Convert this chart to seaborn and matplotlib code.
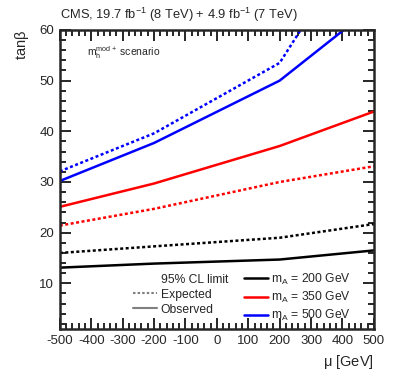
import numpy as np
import pandas as pd
import seaborn as sns
import matplotlib.pyplot as plt
from matplotlib.lines import Line2D
from matplotlib.ticker import MultipleLocator

mu = [-500, -200, 200, 500]
mA_labels = ['200', '350', '500']
obs_200 = [13.1, 13.9, 14.7, 16.5]
exp_200 = [16.0, 17.3, 19.0, 21.7]
obs_350 = [25.1, 29.7, 37.1, 43.9]
exp_350 = [21.4, 24.7, 30.0, 33.1]
obs_500 = [30.2, 37.7, 50.0, 64.7]
exp_500 = [32.1, 39.6, 53.5, 82.6]

rows = []
for m, obs, exp in zip(mA_labels, [obs_200, obs_350, obs_500], [exp_200, exp_350, exp_500]):
    for x, o, e in zip(mu, obs, exp):
        rows.append({'mu': x, 'tanb': o, 'mA': m, 'kind': 'Observed'})
        rows.append({'mu': x, 'tanb': e, 'mA': m, 'kind': 'Expected'})
df = pd.DataFrame(rows)

sns.set_style('ticks')
plt.rcParams['font.family'] = ['Liberation Sans', 'DejaVu Sans']
plt.rcParams['mathtext.fontset'] = 'custom'
plt.rcParams['mathtext.rm'] = 'Liberation Sans'
plt.rcParams['mathtext.it'] = 'Liberation Sans'
plt.rcParams['axes.unicode_minus'] = False

fig = plt.figure(figsize=(3.99, 3.79), dpi=100)
ax = fig.add_axes([0.150, 0.132, 0.787, 0.789])

palette = {'200': 'black', '350': 'red', '500': 'blue'}
sns.lineplot(data=df, x='mu', y='tanb', hue='mA', style='kind', palette=palette,
             dashes={'Observed': '', 'Expected': (1.2, 1.0)}, linewidth=1.8,
             legend=False, ax=ax, estimator=None, sort=False)

ax.set_xlim(-500, 500)
ax.set_ylim(1, 60)
ax.xaxis.set_major_locator(MultipleLocator(100))
ax.xaxis.set_minor_locator(MultipleLocator(20))
ax.yaxis.set_major_locator(MultipleLocator(10))
ax.yaxis.set_minor_locator(MultipleLocator(2))
ax.set_yticks([10, 20, 30, 40, 50, 60])
ax.tick_params(which='both', direction='in', top=True, right=True, width=1.4,
               labelsize=9.5, pad=4)
ax.tick_params(which='major', length=8)
ax.tick_params(which='minor', length=4)
for s in ax.spines.values():
    s.set_linewidth(1.8)

ax.set_xlabel(r'$\mu$ [GeV]', fontsize=10.5, loc='right', labelpad=5)
ax.set_ylabel(r'tan$\beta$', fontsize=10.5, loc='top', labelpad=6)
ax.set_title('CMS, 19.7 fb$^{-1}$ (8 TeV) + 4.9 fb$^{-1}$ (7 TeV)', loc='left',
             fontsize=9.3, pad=8)
ax.text(0.085, 0.925, r'm$_{\mathrm{h}}^{\mathrm{mod+}}$ scenario', transform=ax.transAxes,
        fontsize=7.5, va='center', ha='left')

handles = [Line2D([], [], color='none'),
           Line2D([], [], color='gray', ls=(0, (1.2, 1.0)), lw=1.5),
           Line2D([], [], color='gray', lw=1.5),
           Line2D([], [], color='black', lw=1.8),
           Line2D([], [], color='red', lw=1.8),
           Line2D([], [], color='blue', lw=1.8)]
labels = ['95% CL limit', 'Expected', 'Observed',
          'm$_A$ = 200 GeV', 'm$_A$ = 350 GeV', 'm$_A$ = 500 GeV']
ax.legend(handles, labels, ncol=2, frameon=False, fontsize=8.7,
          loc='lower right', bbox_to_anchor=(0.928, 0.02), borderaxespad=0,
          borderpad=0, handlelength=2.0, handletextpad=0.3, columnspacing=1.3,
          labelspacing=0.25)

fig.savefig('out.png', dpi=100)
